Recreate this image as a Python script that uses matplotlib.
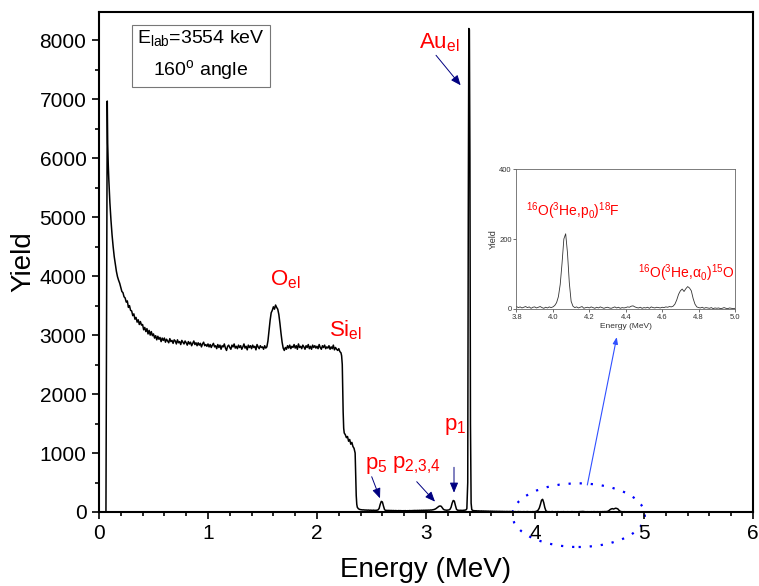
import numpy as np
import matplotlib
matplotlib.use("Agg")
import matplotlib.pyplot as plt
from matplotlib.patches import Ellipse
from matplotlib.ticker import MultipleLocator, FormatStrFormatter

plt.rcParams['font.family'] = ['Liberation Sans', 'DejaVu Sans']
plt.rcParams['mathtext.fontset'] = 'custom'
plt.rcParams['mathtext.rm'] = 'Liberation Sans'
plt.rcParams['mathtext.it'] = 'Liberation Sans:italic'
plt.rcParams['mathtext.bf'] = 'Liberation Sans:bold'
plt.rcParams['mathtext.default'] = 'regular'

# --- spettro (energia in MeV, conteggi) ---

# picco a bassa energia e coda
coda_E = [0.050, 0.064, 0.070, 0.076, 0.080, 0.085, 0.090, 0.100, 0.110, 0.120,
          0.130, 0.140, 0.150, 0.160, 0.170, 0.180, 0.190]
coda_Y = [0, 0, 3500, 6970, 6250, 5900, 5650, 5250, 4950, 4700,
          4500, 4330, 4200, 4080, 3990, 3930, 3880]

# plateau 0.20 - 2.22 MeV, passo 0.01 (con il picco O)
plateau_Y = [
    3810, 3740, 3720, 3650, 3630, 3560, 3580, 3470, 3500, 3420,
    3410, 3330, 3360, 3270, 3300, 3220, 3260, 3180, 3230, 3170,
    3180, 3090, 3130, 3060, 3110, 3020, 3080, 3000, 3060, 2990,
    3020, 2950, 2990, 2920, 2980, 2930, 2960, 2890, 2950, 2910,
    2950, 2880, 2930, 2900, 2870, 2940, 2890, 2910, 2860, 2920,
    2900, 2850, 2920, 2870, 2890, 2840, 2910, 2880, 2850, 2900,
    2870, 2830, 2890, 2850, 2880, 2820, 2860, 2900, 2840, 2870,
    2820, 2870, 2830, 2860, 2800, 2850, 2880, 2820, 2840, 2810,
    2850, 2800, 2840, 2790, 2830, 2860, 2800, 2820, 2770, 2840,
    2790, 2830, 2760, 2820, 2800, 2850, 2780, 2740, 2810, 2830,
    2790, 2760, 2830, 2800, 2850, 2780, 2810, 2770, 2830, 2790,
    2820, 2760, 2800, 2850, 2780, 2810, 2750, 2830, 2790, 2820,
    2770, 2830, 2790, 2810, 2750, 2840, 2800, 2770, 2820, 2790,
    2800, 2760, 2820, 2780, 2800, 2900, 3080, 3250, 3380, 3420,
    3480, 3440, 3510, 3470, 3440, 3350, 3200, 3030, 2880, 2780,
    2740, 2790, 2760, 2820, 2780, 2830, 2770, 2810, 2790, 2840,
    2780, 2820, 2760, 2850, 2790, 2810, 2770, 2830, 2800, 2760,
    2820, 2790, 2840, 2770, 2810, 2760, 2830, 2790, 2820, 2780,
    2810, 2770, 2840, 2790, 2760, 2820, 2790, 2830, 2770, 2800,
    2780, 2820, 2760, 2800, 2770, 2830, 2750, 2790, 2760, 2740,
    2770, 2720, 2700]

# bordo del silicio
si_E = [2.226, 2.232, 2.236, 2.240, 2.245, 2.250, 2.260, 2.270, 2.280, 2.290,
        2.300, 2.310, 2.320, 2.330, 2.340, 2.350, 2.355, 2.360, 2.365, 2.370,
        2.380, 2.390, 2.400]
si_Y = [2650, 2500, 2100, 1700, 1420, 1340, 1310, 1260, 1280, 1200,
        1230, 1150, 1180, 1110, 1080, 1000, 650, 280, 130, 80,
        55, 45, 40]

# zona dei protoni 2.41 - 3.37 MeV, passo 0.01
protoni_Y = [
    38, 35, 36, 32, 34, 30, 33, 29, 31,
    30, 28, 31, 27, 29, 30, 35, 60, 130, 180,
    170, 100, 40, 26, 28, 25, 27, 24, 26, 23,
    25, 22, 24, 23, 21, 24, 22, 23, 20, 22,
    21, 23, 20, 22, 21, 24, 22, 23, 25, 24,
    26, 24, 27, 25, 28, 26, 29, 27, 30, 28,
    31, 29, 32, 30, 34, 33, 36, 40, 46, 55,
    70, 85, 98, 102, 96, 70, 45, 35, 32, 30,
    32, 35, 45, 80, 150, 195, 185, 110, 45, 30,
    28, 27, 29, 26, 28, 30, 32, 40]

# picco dell'oro
au_E = [3.375, 3.383, 3.388, 3.393, 3.398, 3.403, 3.408, 3.414, 3.420]
au_Y = [60, 500, 5000, 8200, 8180, 6000, 1500, 150, 40]

# alta energia 3.43 - 4.99 MeV, passo 0.01
alta_Y = [
    25, 22, 20, 21, 18, 19, 17,
    16, 18, 15, 17, 14, 16, 13, 15, 12, 14,
    12, 13, 11, 12, 10, 12, 9, 11, 10, 9,
    10, 8, 9, 7, 9, 8, 7, 9, 6, 8,
    7, 4, 6, 3, 5, 7, 4, 6, 2, 5,
    6, 3, 5, 7, 4, 2, 5, 3, 6, 4,
    6, 10, 18, 35, 70, 130, 200, 215, 160, 75,
    22, 8, 4, 6, 3, 5, 7, 2, 4, 5,
    3, 6, 4, 2, 5, 3, 6, 4, 2, 4,
    5, 3, 2, 4, 6, 3, 5, 2, 4, 3,
    4, 6, 5, 8, 9, 6, 4, 3, 5, 2,
    4, 3, 5, 2, 6, 4, 3, 5, 4, 3,
    5, 4, 6, 5, 7, 6, 8, 14, 26, 42,
    52, 57, 50, 58, 64, 60, 52, 30, 14, 6,
    4, 3, 5, 2, 4, 3, 2, 4, 1, 3,
    2, 3, 1, 2, 4, 2, 1, 3, 2, 1]

# coda finale 5.00 - 6.00 MeV, passo 0.05
fine_Y = [2, 1, 2, 1, 1, 2, 1, 0, 1, 1, 0, 1, 0, 1, 1, 0, 0, 1, 0, 0, 0]

energia = np.concatenate([
    coda_E,
    np.linspace(0.20, 2.22, len(plateau_Y)),
    si_E,
    np.linspace(2.41, 3.37, len(protoni_Y)),
    au_E,
    np.linspace(3.43, 4.99, len(alta_Y)),
    np.linspace(5.00, 6.00, len(fine_Y)),
])
resa = np.concatenate([coda_Y, plateau_Y, si_Y, protoni_Y, au_Y, alta_Y, fine_Y])

# etichette dei picchi
etichette = ['Au$_{el}$', 'O$_{el}$', 'Si$_{el}$', 'p$_{5}$', 'p$_{2{,}3{,}4}$', 'p$_{1}$']
etich_pos = [(3.12, 7965), (1.706, 3932), (2.266, 3085), (2.541, 780), (2.908, 797), (3.266, 1458)]

# frecce (partenza, punta)
frecce = [((3.092, 7746), (3.318, 7237)),
          ((2.502, 598), (2.578, 232)),
          ((2.915, 514), (3.083, 175)),
          ((3.257, 758), (3.257, 327))]

rosso = '#ff0000'
blu_scuro = '#000080'

fig = plt.figure(figsize=(7.59, 5.86), dpi=100)
ax = fig.add_axes([0.1304, 0.1263, 0.8617, 0.8532])
ax.plot(energia, resa, color='black', lw=1.1)
ax.set_xlim(0, 6)
ax.set_ylim(0, 8480)
ax.xaxis.set_major_locator(MultipleLocator(1))
ax.xaxis.set_minor_locator(MultipleLocator(0.2))
ax.yaxis.set_major_locator(MultipleLocator(1000))
ax.yaxis.set_minor_locator(MultipleLocator(500))
ax.tick_params(which='both', direction='out', labelsize=15, width=1.2)
ax.tick_params(which='major', length=5, pad=4)
ax.tick_params(which='minor', length=3)
for s in ax.spines.values():
    s.set_linewidth(1.5)
ax.set_xlabel('Energy (MeV)', fontsize=20, labelpad=10)
ax.set_ylabel('Yield', fontsize=20, labelpad=2)

ax.text(0.936, 7746, 'E$_{lab}$=3554 keV\n160$^{o}$ angle', ha='center', va='center',
        fontsize=14, linespacing=1.6,
        bbox=dict(boxstyle='square,pad=0.25', fc='white', ec='#777777', lw=0.8))

for testo, (x, y) in zip(etichette, etich_pos):
    ax.text(x, y, testo, color=rosso, fontsize=16, ha='center', va='center')

for inizio, punta in frecce:
    ax.annotate('', xy=punta, xytext=inizio,
                arrowprops=dict(arrowstyle='-|>,head_length=0.6,head_width=0.25',
                                color=blu_scuro, lw=0.7, shrinkA=0, shrinkB=0))

ell = Ellipse((4.40, -54), 1.215, 1080, fill=False, ec='#0000ff', lw=1.6,
              ls=(0, (1, 4)), clip_on=False)
ax.add_patch(ell)
ax.annotate('', xy=(4.75, 2966), xytext=(4.48, 458), annotation_clip=False,
            arrowprops=dict(arrowstyle='-|>,head_length=0.4,head_width=0.15',
                            color='#3050ff', lw=0.8, shrinkA=0, shrinkB=0))

# inset
axi = fig.add_axes([0.6805, 0.4727, 0.2879, 0.2389])
axi.plot(energia, resa, color='#333333', lw=0.6)
axi.set_xlim(3.8, 5.0)
axi.set_ylim(0, 400)
axi.set_xticks([3.8, 4.0, 4.2, 4.4, 4.6, 4.8, 5.0])
axi.set_yticks([0, 200, 400])
axi.xaxis.set_major_formatter(FormatStrFormatter('%.1f'))
axi.tick_params(labelsize=5.5, length=2, width=0.5, colors='#333333', pad=1.5)
for s in axi.spines.values():
    s.set_linewidth(0.6)
    s.set_color('#666666')
axi.set_xlabel('Energy (MeV)', fontsize=6, labelpad=1.5, color='#333333')
axi.set_ylabel('Yield', fontsize=6.5, labelpad=1, color='#333333')
axi.text(4.11, 280, '$^{16}$O($^{3}$He,p$_{0}$)$^{18}$F', color=rosso, fontsize=10,
         ha='center', va='center')
axi.text(4.73, 103, '$^{16}$O($^{3}$He,α$_{0}$)$^{15}$O', color=rosso, fontsize=10,
         ha='center', va='center')

fig.savefig('out.png', dpi=100)
